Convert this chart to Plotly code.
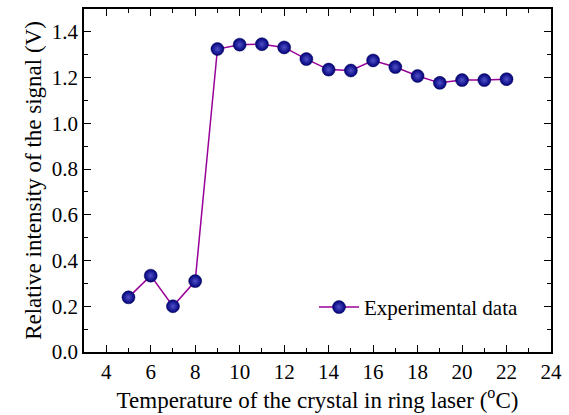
import plotly.graph_objects as go

temperature = [5, 6, 7, 8, 9, 10, 11, 12, 13, 14, 15, 16, 17, 18, 19, 20, 21, 22]
intensity = [0.239, 0.334, 0.200, 0.310, 1.325, 1.344, 1.346, 1.332, 1.281, 1.235,
             1.231, 1.275, 1.246, 1.207, 1.177, 1.189, 1.189, 1.193]
x_ticks = [4, 6, 8, 10, 12, 14, 16, 18, 20, 22, 24]
y_ticks = [0.0, 0.2, 0.4, 0.6, 0.8, 1.0, 1.2, 1.4]

font = "Liberation Serif"

fig = go.Figure()
fig.add_trace(go.Scatter(
    x=temperature, y=intensity, mode="lines+markers",
    name="Experimental data",
    line=dict(color="#990099", width=1.5),
    marker=dict(size=13, color="#00007A",
                gradient=dict(type="radial", color="#5050c8"),
                line=dict(width=0.5, color="#000050")),
))

axis_common = dict(
    showline=True, linecolor="black", linewidth=1.5, mirror="ticks",
    ticks="inside", ticklen=7, tickwidth=1.2, tickcolor="black",
    showgrid=False, zeroline=False,
    tickfont=dict(family=font, size=21, color="black"),
)

fig.update_xaxes(
    range=[3, 24], tickvals=x_ticks, ticktext=[str(v) for v in x_ticks],
    minor=dict(dtick=1, tick0=3, ticks="inside", ticklen=4, tickcolor="black", tickwidth=1.2),
    title=dict(text="Temperature of the crystal in ring laser (<sup>o</sup>C)",
               font=dict(family=font, size=23, color="black"), standoff=8),
    **axis_common,
)
fig.update_yaxes(
    range=[0, 1.5], tickvals=y_ticks, ticktext=[f"{v:.1f}" for v in y_ticks],
    minor=dict(dtick=0.1, tick0=0, ticks="inside", ticklen=4, tickcolor="black", tickwidth=1.2),
    title=dict(text="Relative intensity of the signal (V)",
               font=dict(family=font, size=23, color="black"), standoff=4),
    **axis_common,
)

fig.update_layout(
    width=569, height=415,
    margin=dict(l=84, r=17, t=7, b=62),
    paper_bgcolor="white", plot_bgcolor="white",
    font=dict(family=font, color="black"),
    showlegend=True,
    legend=dict(x=0.4925, y=0.13, xanchor="left", yanchor="middle",
                itemwidth=40,
                bgcolor="rgba(0,0,0,0)", borderwidth=0,
                font=dict(family=font, size=21, color="black")),
)

fig.write_html("out.html")
